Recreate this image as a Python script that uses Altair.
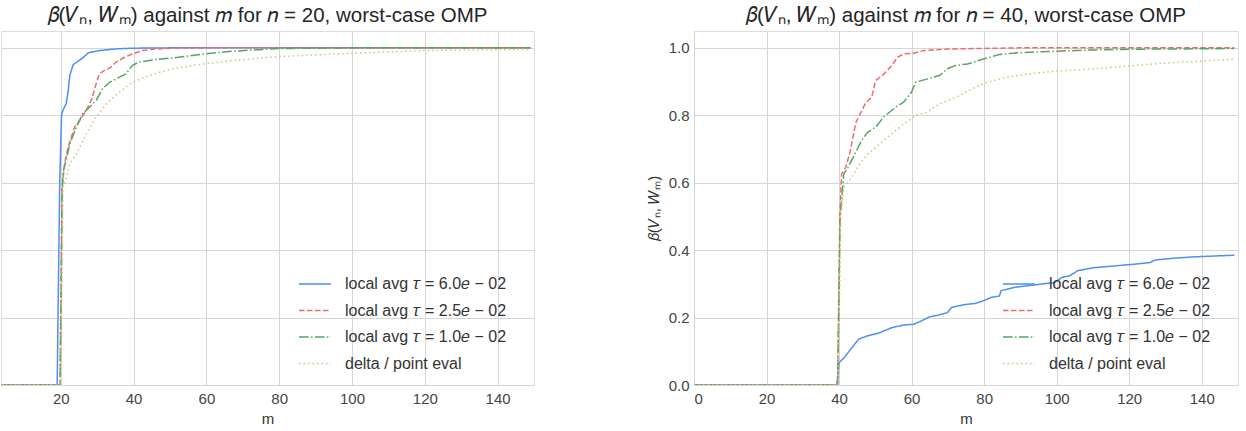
import altair as alt
import pandas as pd

SERIES = ["local avg 𝜏 = 6.0𝑒 − 02", "local avg 𝜏 = 2.5𝑒 − 02",
          "local avg 𝜏 = 1.0𝑒 − 02", "delta / point eval"]
COLORS = ["#4d8ff5", "#f06c6c", "#55a660", "#cfc57a"]
DASHES = [[1, 0], [5.5, 2.5], [9.6, 2.4, 1.5, 2.4], [1.5, 3.0]]

# ---- left panel, n = 20 ----
L_blue_m = [0, 19, 19.7, 20.2, 20.6, 21.5, 22, 22.5, 23.4, 24.7, 26, 27.5, 30.6, 35.2, 39.7, 50, 149]
L_blue_v = [0, 0, 0.6, 0.8, 0.815, 0.835, 0.87, 0.92, 0.95, 0.96, 0.97, 0.985, 0.992, 0.997, 0.999, 1.0, 1.0]
L_red_m = [0, 19, 19.8, 20.3, 21.1, 22, 23.8, 25.2, 27, 28.4, 29.7, 30.6, 32, 33.8, 35.2, 37.5, 39.7, 42.5, 45.2, 50, 60, 149]
L_red_v = [0, 0, 0, 0.58, 0.66, 0.705, 0.765, 0.785, 0.815, 0.845, 0.893, 0.923, 0.933, 0.943, 0.958, 0.972, 0.982, 0.992, 0.996, 0.999, 1.0, 1.0]
L_green_m = [0, 19, 19.8, 20.4, 20.6, 22.5, 24.3, 26, 27.9, 29.7, 31.5, 33.4, 35.2, 37.9, 39.7, 41.5, 45.2, 50.6, 59.7, 67, 80, 100, 149]
L_green_v = [0, 0, 0, 0.58, 0.63, 0.716, 0.765, 0.805, 0.824, 0.844, 0.879, 0.898, 0.908, 0.923, 0.948, 0.958, 0.964, 0.97, 0.982, 0.99, 0.998, 1.0, 1.0]
L_yellow_m = [0, 19, 20, 20.6, 22.5, 24.3, 27, 29.7, 32.5, 36.1, 39.7, 44.3, 48.8, 53.4, 59.7, 67, 79.7, 100, 120, 149]
L_yellow_v = [0, 0, 0, 0.58, 0.656, 0.686, 0.745, 0.795, 0.834, 0.869, 0.898, 0.918, 0.933, 0.943, 0.953, 0.962, 0.974, 0.984, 0.992, 0.996]

# ---- right panel, n = 40 ----
R_blue_m = [0, 39, 39.4, 40, 41.3, 43.5, 45.4, 47.9, 51.2, 54.5, 57.8, 60.5, 62.7, 64.9, 67.7, 69.9, 71, 74.3,
            77.6, 79.8, 82, 84.2, 84.7, 88.6, 94, 99.5, 101.4, 103.6, 105.8, 110.2, 115.7, 121.2, 125.6, 127.3,
            132.2, 137.7, 149]
R_blue_v = [0, 0, 0, 0.066, 0.08, 0.11, 0.136, 0.146, 0.155, 0.17, 0.178, 0.18, 0.19, 0.202, 0.208, 0.215, 0.23,
            0.238, 0.242, 0.25, 0.26, 0.264, 0.28, 0.29, 0.297, 0.304, 0.319, 0.324, 0.339, 0.348, 0.353, 0.358,
            0.363, 0.371, 0.376, 0.38, 0.385]
R_red_m = [0, 39, 39.6, 40.2, 40.7, 41.8, 42.9, 44.6, 45.6, 47.3, 49, 50.1, 52.3, 54.5, 56.1, 57.8, 60.5, 63.3,
           68.8, 77.6, 90, 149]
R_red_v = [0, 0, 0, 0.5, 0.626, 0.645, 0.685, 0.777, 0.8, 0.836, 0.854, 0.903, 0.922, 0.947, 0.972, 0.982, 0.984,
           0.992, 0.996, 0.998, 1.0, 1.0]
R_green_m = [0, 39, 39.6, 40.3, 41.3, 42.4, 44.6, 46.2, 47.9, 50.1, 52.3, 55.6, 57.8, 60, 61.1, 64.4, 67.7, 69.9,
             72.1, 75.4, 79.8, 84.2, 88.6, 99.5, 110.6, 121.6, 149]
R_green_v = [0, 0, 0, 0.5, 0.626, 0.645, 0.69, 0.725, 0.75, 0.765, 0.795, 0.824, 0.839, 0.869, 0.898, 0.908, 0.918,
             0.938, 0.948, 0.952, 0.967, 0.98, 0.985, 0.99, 0.994, 0.996, 0.998]
R_yellow_m = [0, 39, 39.7, 40.5, 41.3, 43.5, 45.6, 47.9, 51.2, 54.5, 57.8, 61.1, 64.4, 67.7, 72.1, 76.5, 80.9,
              86.3, 94, 99.5, 110.6, 121.6, 132.7, 139.2, 149]
R_yellow_v = [0, 0, 0, 0.5, 0.587, 0.616, 0.655, 0.685, 0.715, 0.745, 0.774, 0.8, 0.81, 0.834, 0.853, 0.878,
              0.898, 0.913, 0.925, 0.931, 0.938, 0.948, 0.957, 0.96, 0.967]

Y_TICKS = [0.0, 0.2, 0.4, 0.6, 0.8, 1.0]
X_TICKS_L = [20, 40, 60, 80, 100, 120, 140]
X_TICKS_R = [0, 20, 40, 60, 80, 100, 120, 140]

FONT = "Liberation Sans"
GRID = "#d6d6d6"


def frame(pairs):
    rows = []
    for order, (name, ms, vs) in enumerate(pairs):
        for m, v in zip(ms, vs):
            rows.append({"series": name, "ord": order, "m": m, "beta": v})
    return pd.DataFrame(rows)


left_df = frame([(SERIES[0], L_blue_m, L_blue_v), (SERIES[1], L_red_m, L_red_v),
                 (SERIES[2], L_green_m, L_green_v), (SERIES[3], L_yellow_m, L_yellow_v)])
right_df = frame([(SERIES[0], R_blue_m, R_blue_v), (SERIES[1], R_red_m, R_red_v),
                  (SERIES[2], R_green_m, R_green_v), (SERIES[3], R_yellow_m, R_yellow_v)])


def legend(x, y):
    return alt.Legend(orient="none", legendX=x, legendY=y, title=None,
                      symbolType="M-2,0H2", symbolSize=256, symbolStrokeWidth=1.5,
                      labelFont=FONT, labelFontSize=16, labelColor="#333333",
                      labelOffset=21, rowPadding=9.5, padding=0, labelLimit=400)


def panel(df, title, xdomain, xticks, width, show_y, lx, ly):
    yaxis = alt.Axis(values=Y_TICKS, format=".1f", grid=True, gridColor=GRID, domain=False, ticks=False,
                     tickSize=0, labels=show_y, labelFont=FONT, labelFontSize=15, labelColor="#444444",
                     labelPadding=5,
                     title="𝛽(𝑉ₙ, 𝑊ₘ)" if show_y else None, titleFont=FONT, titleFontSize=15,
                     titleFontWeight="normal", titleColor="#333333", titlePadding=7)
    return alt.Chart(df).mark_line(strokeWidth=1.5, clip=True).encode(
        x=alt.X("m:Q", scale=alt.Scale(domain=xdomain, nice=False, zero=False),
                axis=alt.Axis(values=xticks, grid=True, gridColor=GRID, domain=False, ticks=False, tickSize=0,
                              labelFont=FONT, labelFontSize=15, labelColor="#444444", labelPadding=6,
                              title="m", titleFont=FONT, titleFontSize=15, titleFontWeight="normal",
                              titleColor="#333333", titlePadding=5)),
        y=alt.Y("beta:Q", scale=alt.Scale(domain=[0, 1.05], nice=False), axis=yaxis),
        color=alt.Color("series:N", scale=alt.Scale(domain=SERIES, range=COLORS), legend=legend(lx, ly)),
        strokeDash=alt.StrokeDash("series:N", scale=alt.Scale(domain=SERIES, range=DASHES),
                                  legend=legend(lx, ly)),
        order=alt.Order("m:Q"),
    ).properties(
        width=width, height=354,
        title=alt.TitleParams(title, font=FONT, fontSize=20.5, fontWeight="normal", color="#262626",
                              anchor="middle", offset=5, frame="group"),
    )


left = panel(left_df, "𝛽(𝑉ₙ, 𝑊ₘ) against 𝑚 for 𝑛 = 20, worst-case OMP", [3.57, 150], X_TICKS_L, 533, False, 305, 244)
right = panel(right_df, "𝛽(𝑉ₙ, 𝑊ₘ) against 𝑚 for 𝑛 = 40, worst-case OMP", [0, 150], X_TICKS_R, 544, True, 316, 244)

chart = alt.hconcat(left, right, spacing=110).properties(
    padding={"left": 0, "top": 5, "right": 0, "bottom": 0}
).resolve_scale(x="independent").resolve_legend(
    color="independent", strokeDash="independent"
).configure_view(stroke="#cccccc", strokeWidth=1).configure(background="white")

chart.save("out.html", embed_options={"renderer": "svg", "actions": False})
